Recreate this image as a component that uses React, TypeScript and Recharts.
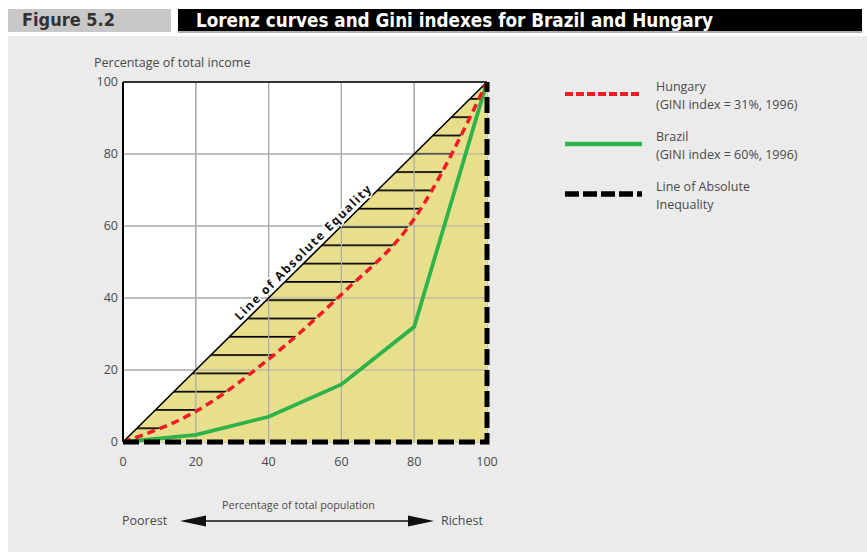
import { ComposedChart, Area, Line, XAxis, YAxis, CartesianGrid, ReferenceLine, ReferenceDot } from 'recharts'

const population = [0, 20, 40, 60, 80, 100]
const hungary = [0, 8.5, 23, 41, 62, 100]
const brazil = [0, 2, 7, 16, 32, 100]
const ticks = [0, 20, 40, 60, 80, 100]
const inequalityX = [0, 100, 100]
const inequalityY = [0, 0, 100]

const SERIES = [
  { name: 'Hungary', note: '(GINI index = 31%, 1996)', color: '#ed1c24', width: 4, dash: '8 3' },
  { name: 'Brazil', note: '(GINI index = 60%, 1996)', color: '#2db34a', width: 4.5, dash: undefined },
  { name: 'Line of Absolute', note: 'Inequality', color: '#000', width: 5.5, dash: '14 4' },
]

const rows = population.map((x, i) => ({
  x,
  equality: x,
  hungary: hungary[i],
  brazil: brazil[i],
  gap: [hungary[i], x],
}))
const inequality = inequalityX.map((x, i) => ({ x, y: inequalityY[i] }))

const FONT = "'Open Sans', sans-serif"
const TEXT = '#4a4a4a'
const YELLOW = '#e8df8c'
const GRID = '#a9a9a9'
const ANGLE = (-Math.atan(360 / 364) * 180) / Math.PI

const equalityLabel = (props: any) => {
  const vb = props.viewBox || {}
  const cx = vb.x + (vb.width || 0) / 2
  const cy = vb.y + (vb.height || 0) / 2
  return (
    <g transform={`rotate(${ANGLE} ${cx} ${cy})`}>
      <text x={cx} y={cy - 4} textAnchor="middle" fontFamily={FONT} fontSize={12} fontWeight={700}
        stroke="#fff" strokeWidth={3} paintOrder="stroke" fill="#111" textLength={186} lengthAdjust="spacing">
        Line of Absolute Equality
      </text>
    </g>
  )
}

export default function App() {
  return (
    <div style={{ position: 'absolute', left: 0, top: 0, width: 867, height: 552, background: '#fff', fontFamily: FONT, overflow: 'hidden' }}>
      <div style={{ position: 'absolute', left: 8, top: 36, width: 859, height: 516, background: '#ebebeb' }} />
      <svg width={867} height={36} style={{ position: 'absolute', left: 0, top: 0 }}>
        <rect x={8} y={9} width={163} height={23} fill="#c8c8c8" />
        <rect x={178} y={9} width={684} height={22} fill="#000" />
        <rect x={178} y={31} width={684} height={2} fill="#b0b0b0" />
        <text x={22} y={26} fontFamily="'Liberation Sans Narrow', 'DejaVu Sans Condensed', sans-serif" fontWeight={700} fontSize={18} fill="#333" textLength={93} lengthAdjust="spacingAndGlyphs">
          Figure 5.2
        </text>
        <text x={196} y={27} fontFamily="'Liberation Sans Narrow', 'DejaVu Sans Condensed', sans-serif" fontWeight={700} fontSize={20} fill="#fff" textLength={517} lengthAdjust="spacingAndGlyphs">
          Lorenz curves and Gini indexes for Brazil and Hungary
        </text>
      </svg>

      <div style={{ position: 'absolute', left: 0, top: 0 }}>
        <ComposedChart width={867} height={552} data={rows} margin={{ top: 82, right: 380, bottom: 80, left: 88 }}>
          <defs>
            <pattern id="hatch" patternUnits="userSpaceOnUse" x={0} y={6.5} width={10} height={18.3}>
              <rect x={0} y={0} width={10} height={1.7} fill="#000" />
            </pattern>
          </defs>
          <CartesianGrid stroke={GRID} strokeWidth={1.2} fill="#fff" fillOpacity={1} horizontalValues={ticks} verticalValues={ticks} />
          <Area type="linear" dataKey="equality" baseValue={0} fill={YELLOW} fillOpacity={1} stroke="none" isAnimationActive={false} />
          <Area type="monotone" dataKey="gap" fill="url(#hatch)" fillOpacity={1} stroke="none" isAnimationActive={false} />
          {ticks.slice(1, -1).map((t) => (
            <ReferenceLine key={'v' + t} x={t} stroke={GRID} strokeWidth={1.2} />
          ))}
          {ticks.slice(1, -1).map((t) => (
            <ReferenceLine key={'h' + t} y={t} stroke={GRID} strokeWidth={1.2} />
          ))}
          <XAxis type="number" dataKey="x" domain={[0, 100]} ticks={ticks} axisLine={false} tickLine={false} height={30}
            tick={{ fontSize: 12.5, fill: TEXT, fontFamily: FONT }} tickMargin={9} />
          <YAxis type="number" domain={[0, 100]} ticks={ticks} width={35} tickLine={false} tickSize={3} tickMargin={2}
            axisLine={{ stroke: '#000', strokeWidth: 2 }} tick={{ fontSize: 12.5, fill: TEXT, fontFamily: FONT }} />
          <ReferenceLine y={100} stroke="#333" strokeWidth={2} />
          <Line type="linear" dataKey="equality" stroke="#000" strokeWidth={1.6} dot={false} isAnimationActive={false} />
          <Line type="linear" dataKey="brazil" stroke={SERIES[1].color} strokeWidth={3.8} dot={false} isAnimationActive={false} />
          <Line type="monotone" dataKey="hungary" stroke={SERIES[0].color} strokeWidth={3.5} strokeDasharray="8 5" dot={false} isAnimationActive={false} />
          <Line data={inequality} type="linear" dataKey="y" stroke="#000" strokeWidth={5} strokeDasharray="16 5" dot={false} isAnimationActive={false} />
          <ReferenceDot x={51} y={51} r={0} fill="none" stroke="none" label={equalityLabel} />
        </ComposedChart>
      </div>

      <div style={{ position: 'absolute', left: 94, top: 54, fontSize: 12.5, color: TEXT }}>Percentage of total income</div>

      <div style={{ position: 'absolute', left: 560, top: 0 }}>
        {SERIES.map((s, i) => (
          <div key={s.name} style={{ position: 'absolute', top: 78 + i * 50, left: 0, width: 300 }}>
            <svg width={90} height={34} style={{ position: 'absolute', left: 0, top: 0 }}>
              <line x1={5} x2={82} y1={16} y2={16} stroke={s.color} strokeWidth={s.width} strokeDasharray={s.dash} />
            </svg>
            <div style={{ position: 'absolute', left: 96, top: 0, fontSize: 12.5, lineHeight: '18px', color: TEXT, whiteSpace: 'nowrap' }}>
              {s.name}<br />{s.note}
            </div>
          </div>
        ))}
      </div>

      <div style={{ position: 'absolute', left: 213, top: 497, width: 171, textAlign: 'center', fontSize: 10.8, color: TEXT, whiteSpace: 'nowrap' }}>
        Percentage of total population
      </div>
      <div style={{ position: 'absolute', left: 122, top: 512, fontSize: 12.5, color: TEXT }}>Poorest</div>
      <div style={{ position: 'absolute', left: 441, top: 512, fontSize: 12.5, color: TEXT }}>Richest</div>
      <svg width={867} height={552} style={{ position: 'absolute', left: 0, top: 0, pointerEvents: 'none' }}>
        <line x1={200} x2={414} y1={521} y2={521} stroke="#111" strokeWidth={1.6} />
        <polygon points="180,521 206,515.5 206,526.5" fill="#111" />
        <polygon points="434,521 408,515.5 408,526.5" fill="#111" />
      </svg>
    </div>
  )
}
